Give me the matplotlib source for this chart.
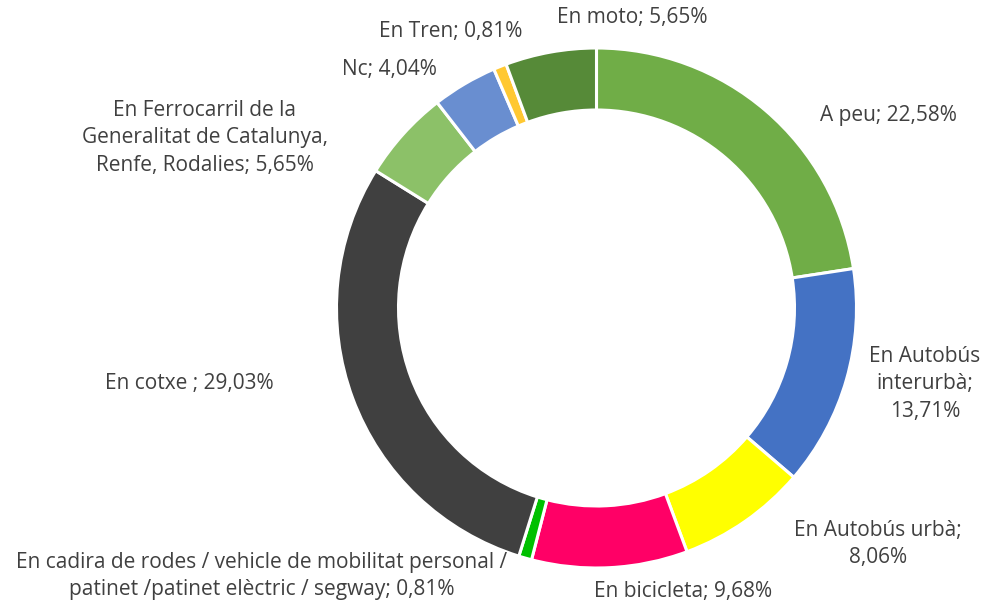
import matplotlib
matplotlib.use("Agg")
import matplotlib.pyplot as plt

categories = ["A peu", "En Autobús\ninterurbà", "En Autobús urbà", "En bicicleta",
              "En cadira de rodes / vehicle de mobilitat personal /\npatinet /patinet elèctric / segway",
              "En cotxe ", "En Ferrocarril de la\nGeneralitat de Catalunya,\nRenfe, Rodalies",
              "Nc", "En Tren", "En moto"]
values = [22.58, 13.71, 8.06, 9.68, 0.81, 29.03, 5.65, 4.04, 0.81, 5.65]
label_texts = ["A peu; 22,58%", "En Autobús\ninterurbà;\n13,71%", "En Autobús urbà;\n8,06%",
               "En bicicleta; 9,68%",
               "En cadira de rodes / vehicle de mobilitat personal /\npatinet /patinet elèctric / segway; 0,81%",
               "En cotxe ; 29,03%", "En Ferrocarril de la\nGeneralitat de Catalunya,\nRenfe, Rodalies; 5,65%",
               "Nc; 4,04%", "En Tren; 0,81%", "En moto; 5,65%"]
colors = ["#70AD47", "#4472C4", "#FFFF00", "#FF0066", "#00C000",
          "#404040", "#8CC168", "#698ED0", "#FFC832", "#568A38"]
# label positions in pixel layout (x, y from top)
label_pos = [(888, 116), (925, 384), (878, 544), (683, 592), (262, 576),
             (189, 384), (205, 138), (389, 69), (451, 32), (632, 17)]

W, H = 1002, 604
fig = plt.figure(figsize=(W / 100, H / 100), dpi=100)
ax = fig.add_axes([0, 0, 1, 1])

cx, cy, R = 596.5, 308, 260
ax.pie(values, colors=colors, startangle=-90, counterclock=True,
       center=(cx, cy), radius=R, frame=True,
       wedgeprops=dict(width=62, edgecolor="white", linewidth=2.2))
ax.set_xlim(0, W)
ax.set_ylim(H, 0)
ax.set_aspect("equal")
ax.axis("off")

for txt, (x, y) in zip(label_texts, label_pos):
    ax.text(x, y, txt, ha="center", va="center", fontsize=15, color="#404040",
            family="Open Sans", linespacing=1.38)

fig.savefig("out.png", dpi=100)
